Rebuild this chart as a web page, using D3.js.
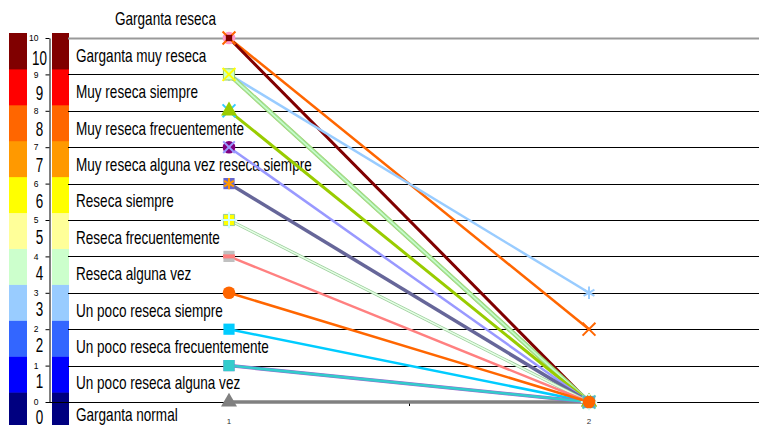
<!DOCTYPE html>
<html>
<head>
<meta charset="utf-8">
<script src="https://cdn.jsdelivr.net/npm/d3@7"></script>
<style>
    body { margin: 0; background: #fff; }
    svg { display: block; font-family: "Liberation Sans", Arial, sans-serif; }
</style>
</head>
<body>
<div id="chart"></div>
<script>
// x categories
const categories = ["1", "2"];

// dryness levels, 0 = normal throat, 10 = very dry
const levels = [0, 1, 2, 3, 4, 5, 6, 7, 8, 9, 10];
const levelColors = ["#000080", "#0000FF", "#3366FF", "#99CCFF", "#CCFFCC", "#FFFF99",
                     "#FFFF00", "#FF9900", "#FF6600", "#FF0000", "#800000"];

// labels between the gridlines, top to bottom
const levelLabels = [
    "Garganta reseca",
    "Garganta muy reseca",
    "Muy reseca siempre",
    "Muy reseca frecuentemente",
    "Muy reseca alguna vez reseca siempre",
    "Reseca siempre",
    "Reseca frecuentemente",
    "Reseca alguna vez",
    "Un poco reseca siempre",
    "Un poco reseca frecuentemente",
    "Un poco reseca alguna vez",
    "Garganta normal"
];

// values of every series at category 1 and 2
const seriesValues = [
    [0, 0],
    [10, 0],
    [10, 2],
    [10, 0],
    [9, 3],
    [9, 0],
    [9, 0],
    [8, 0],
    [8, 0],
    [7, 0],
    [6, 0],
    [5, 0],
    [4, 0],
    [2, 0],
    [1, 0],
    [1, 0],
    [3, 0]
];

// look of every series (same order as seriesValues)
const seriesStyle = [
    { line: "#808080", width: 3.5, marker: "triangle", fill: "#808080" },
    { line: "#FF99CC", width: 2,   marker: "circle",   fill: "#FF99CC" },
    { line: "#FF6600", width: 2.5, marker: "times",    fill: "#FF6600" },
    { line: "#800000", width: 3,   marker: "square",   fill: "#800000", size: 40 },
    { line: "#99CCFF", width: 2.5, marker: "asterisk", fill: "#99CCFF" },
    { line: "#CCFF99", width: 3,   marker: "square",   fill: "#CCFFCC", edge: "#99CC66" },
    { line: "#CCFFCC", width: 1.5, marker: "times",    fill: "#FFFF00", edge: "#99DD99" },
    { line: "#33CCFF", width: 1,   marker: "times",    fill: "#33CCFF" },
    { line: "#99CC00", width: 3,   marker: "triangle", fill: "#99CC00" },
    { line: "#9999FF", width: 2.5, marker: "circle",   fill: "#800080", extra: "times",    extraFill: "#9999FF" },
    { line: "#666699", width: 3.5, marker: "square",   fill: "#6666CC", extra: "asterisk", extraFill: "#FF9900" },
    { line: "#E6FFE6", width: 1.5, marker: "square",   fill: "#FFFF00", edge: "#99CC99", extra: "plus", extraFill: "#CCFFFF" },
    { line: "#FF8080", width: 2.5, marker: "square",   fill: "#C0C0C0", extra: "dash", extraFill: "#FF8080" },
    { line: "#00CCFF", width: 2.5, marker: "square",   fill: "#00CCFF" },
    { line: "#9966CC", width: 3.5, marker: "square",   fill: "#9966CC" },
    { line: "#33CCCC", width: 2.5, marker: "square",   fill: "#33CCCC" },
    { line: "#FF6600", width: 2.5, marker: "circle",   fill: "#FF6600" }
];

const W = 759, H = 425;

const svg = d3.select("#chart")
    .append("svg")
    .attr("width", W)
    .attr("height", H);

// scales
const xScale = d3.scaleBand()
    .domain(categories)
    .range([49, 769]);

const yScale = d3.scaleLinear()
    .domain([0, 10])
    .range([402, 38]);

// the colour bars use their own rows
const barScale = d3.scaleBand()
    .domain(levels.slice().reverse())
    .range([33, 428]);

const xMid = c => xScale(c) + xScale.bandwidth() / 2;

// colour bars, left and right of the axis
[[9, 18], [52, 17]].forEach(([bx, bw]) => {
    svg.append("g")
        .selectAll("rect")
        .data(levels)
        .join("rect")
        .attr("x", bx)
        .attr("y", d => barScale(d))
        .attr("width", bw)
        .attr("height", barScale.bandwidth() + 0.5)
        .attr("fill", (d, i) => levelColors[i]);
});

// big level numbers
svg.append("g")
    .selectAll("text")
    .data(levels)
    .join("text")
    .attr("transform", d => `translate(39.5,${barScale(d) + 31.5}) scale(0.64,1)`)
    .attr("text-anchor", "middle")
    .attr("font-size", 21)
    .attr("fill", "#000")
    .text(d => d);

// gridlines
svg.append("g")
    .selectAll("line")
    .data(levels)
    .join("line")
    .attr("x1", 68)
    .attr("x2", W)
    .attr("y1", d => Math.round(yScale(d)) + 0.5)
    .attr("y2", d => Math.round(yScale(d)) + 0.5)
    .attr("stroke", d => d === 10 ? "#999" : "#000")
    .attr("stroke-width", d => d === 10 ? 2 : 1);

// y axis
const yAxis = svg.append("g")
    .attr("transform", "translate(49.5,0)")
    .call(d3.axisLeft(yScale).tickValues(levels).tickSize(4).tickPadding(7).tickSizeOuter(0));
yAxis.select(".domain").attr("stroke", "#000");
yAxis.selectAll("text")
    .attr("font-size", 8.5)
    .attr("font-family", "Liberation Sans, Arial, sans-serif")
    .attr("fill", "#000");

// x axis line + ticks between the categories
svg.append("line")
    .attr("x1", 49)
    .attr("x2", W)
    .attr("y1", 402.5)
    .attr("y2", 402.5)
    .attr("stroke", "#000");

svg.append("g")
    .selectAll("line")
    .data(categories.slice(1))
    .join("line")
    .attr("x1", d => Math.round(xScale(d)) + 0.5)
    .attr("x2", d => Math.round(xScale(d)) + 0.5)
    .attr("y1", 402)
    .attr("y2", 406)
    .attr("stroke", "#000");

svg.append("g")
    .selectAll("text")
    .data(categories)
    .join("text")
    .attr("x", d => xMid(d))
    .attr("y", 424)
    .attr("text-anchor", "middle")
    .attr("font-size", 8)
    .attr("fill", "#333")
    .text(d => d);

// level labels between gridlines
svg.append("g")
    .selectAll("text")
    .data(levelLabels)
    .join("text")
    .attr("transform", (d, i) => {
        const ly = Math.min(yScale(10.5 - i) + 5.5, 421);
        const lx = i === 0 ? 115 : 76;
        return `translate(${lx},${ly}) scale(0.775,1)`;
    })
    .attr("font-size", 17.5)
    .attr("fill", "#000")
    .text(d => d);

// series lines
const line = d3.line()
    .x(d => xMid(d.cat))
    .y(d => yScale(d.value));

const series = seriesValues.map((vals, i) => ({
    style: seriesStyle[i],
    points: vals.map((v, j) => ({ cat: categories[j], value: v }))
}));

const lines = svg.append("g");
series.forEach(s => {
    if (s.style.edge) {
        lines.append("path")
            .datum(s.points)
            .attr("d", line)
            .attr("fill", "none")
            .attr("stroke", s.style.edge)
            .attr("stroke-width", s.style.width + 1.5);
    }
    lines.append("path")
        .datum(s.points)
        .attr("d", line)
        .attr("fill", "none")
        .attr("stroke", s.style.line)
        .attr("stroke-width", s.style.width);
});

// markers
const symbolFor = {
    circle: d3.symbolCircle,
    square: d3.symbolSquare,
    triangle: d3.symbolTriangle,
    times: d3.symbolTimes || d3.symbolCross,
    asterisk: d3.symbolAsterisk || d3.symbolCross,
    plus: d3.symbolPlus || d3.symbolCross
};
const stroked = ["times", "asterisk", "plus"];

const drawMarker = (g, points, kind, color, edge, size) => {
    if (kind === "dash") {
        g.selectAll(null)
            .data(points)
            .join("rect")
            .attr("x", d => xMid(d.cat) - 6)
            .attr("y", d => yScale(d.value) - 2)
            .attr("width", 12)
            .attr("height", 4)
            .attr("fill", color);
        return;
    }
    const isStroke = stroked.includes(kind);
    const sz = size || (isStroke ? 110 : (kind === "triangle" ? 110 : 125));
    g.selectAll(null)
        .data(points)
        .join("path")
        .attr("transform", d => `translate(${xMid(d.cat)},${yScale(d.value)})`)
        .attr("d", d3.symbol(symbolFor[kind], sz))
        .attr("fill", isStroke ? "none" : color)
        .attr("stroke", isStroke ? color : (edge || "none"))
        .attr("stroke-width", isStroke ? 2 : 1);
};

const markers = svg.append("g");
series.forEach(s => {
    const st = s.style;
    drawMarker(markers, s.points, st.marker, st.fill, st.edge, st.size);
    if (st.extra) {
        drawMarker(markers, s.points, st.extra, st.extraFill, null, 90);
    }
});
</script>
</body>
</html>
